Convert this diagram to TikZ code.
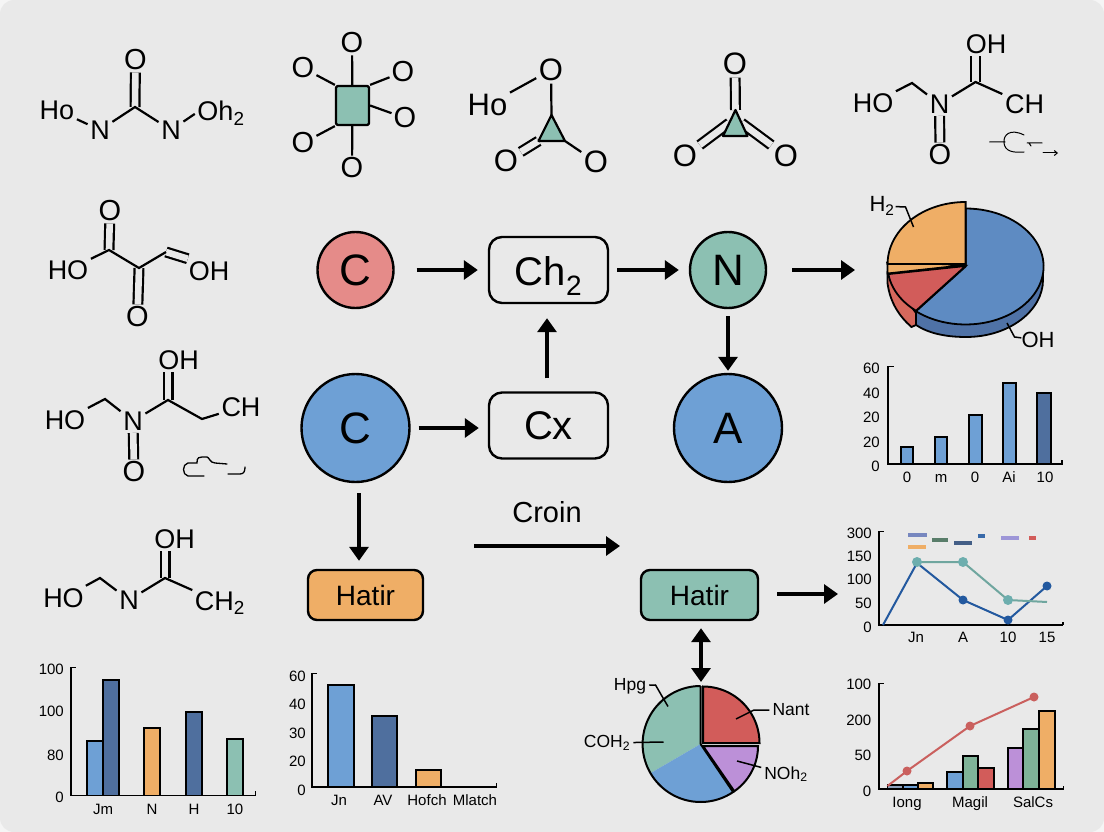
\documentclass[tikz,border=0pt]{standalone}
\usepackage{fontspec}
\setmainfont{Liberation Sans}
\usetikzlibrary{arrows.meta,calc}
\definecolor{paper}{HTML}{E9E9E9}
\definecolor{paperedge}{HTML}{F5F5F5}
\definecolor{tealfill}{HTML}{8CC0B2}
\definecolor{bluefill}{HTML}{6EA0D5}
\definecolor{darkfill}{HTML}{4F6F9E}
\definecolor{orangefill}{HTML}{EFAE66}
\definecolor{redfill}{HTML}{E58B89}
\definecolor{redbar}{HTML}{D25C5A}
\definecolor{purplefill}{HTML}{BC90D8}
\definecolor{greenbar}{HTML}{7FB398}
\definecolor{pietop}{HTML}{5E8BC2}
\definecolor{pieside}{HTML}{4F72A6}
\definecolor{lineblue}{HTML}{23599F}
\definecolor{lineteal}{HTML}{6FA69F}
\definecolor{dotteal}{HTML}{6DAEAE}
\def\fs#1{\fontsize{#1}{#1}\selectfont}
\def\pieslice[#1](#2,#3)(#4:#5:#6:#7){\draw[#1] (#2,#3) -- plot[domain=#4:#5,samples=60] ({#2+#6*cos(\x)},{#3+#7*sin(\x)}) -- cycle;}
\tikzset{
	atom/.style={font=\fs{27}, inner sep=2.5pt},
	oxy/.style={font=\fs{29}, inner sep=2pt},
	bigatom/.style={font=\fs{31}, inner sep=2.5pt},
	bond/.style={line width=2.2pt},
	dbond/.style={line width=2.2pt, double=paper, double distance=6.6pt},
	squiggle/.style={line width=1pt, line cap=round},
	shapefill/.style={draw=black, line width=2.2pt, fill=tealfill, line join=round},
	ball/.style={circle, draw=black, line width=2.4pt, font=\fs{44}, inner sep=0pt},
	flowbox/.style={rectangle, rounded corners=13pt, draw=black, line width=2.4pt, font=\fs{40}, minimum width=119pt, minimum height=66pt, inner sep=0pt},
	tagbox/.style={rectangle, rounded corners=9pt, draw=black, line width=2.4pt, font=\fs{28}, minimum height=50pt, inner sep=0pt},
	flow/.style={line width=3.3pt, -{Triangle[length=14pt,width=19pt]}},
	flowboth/.style={line width=3.3pt, {Triangle[length=14pt,width=19pt]}-{Triangle[length=14pt,width=19pt]}},
	axis/.style={line width=1.8pt},
	barbox/.style={draw=black, line width=1.8pt},
	ylab/.style={font=\fs{15}, anchor=east, inner sep=0pt},
	xlab/.style={font=\fs{15}, inner sep=0pt, text height=11pt, text depth=0pt},
	pielab/.style={font=\fs{17.5}, inner sep=0pt},
	leader/.style={line width=1.5pt},
}
\begin{document}
\begin{tikzpicture}[x=1pt,y=-1pt]
			%%%%% START %%%%%
			
			\fill[paperedge] (0, 0) rectangle (1104, 832);
			\useasboundingbox (0, 0) rectangle (1104, 832);
			\fill[paper, rounded corners=14pt] (0, 0) rectangle (1104, 832);
			
			%%%%% row one
			\node[atom] (aho) at (57, 110) {Ho};
			\node[atom] (ana) at (100, 130) {N};
			\coordinate (ac) at (135, 107);
			\node[oxy] (ao) at (135.5, 60) {O};
			\node[atom] (anb) at (171, 130) {N};
			\node[atom] (aoh) at (221, 113) {Oh\textsubscript{2}};
			\draw[dbond] (ac) -- (ao);
			\draw[bond] (aho) -- (ana);
			\draw[bond] (ana) -- (ac) -- (anb);
			\draw[bond] (anb) -- (aoh.182);
			
			\node[rectangle, rounded corners=1.5pt, shapefill, minimum width=33pt, minimum height=39pt, inner sep=0pt] (bsq) at (352.5, 105.5) {};
			\node[oxy] (bot) at (352, 43) {O};
			\node[oxy] (bolt) at (303, 68) {O};
			\node[oxy] (bort) at (403, 72) {O};
			\node[oxy] (borr) at (405, 118) {O};
			\node[oxy] (bolb) at (303, 143) {O};
			\node[oxy] (bob) at (352, 168) {O};
			\draw[bond] (bsq) -- (bot);
			\draw[bond] (bsq.north west) -- (bolt);
			\draw[bond] (bsq.north east) -- (bort);
			\draw[bond] (bsq.east) -- (borr);
			\draw[bond] (bsq.south west) -- (bolb);
			\draw[bond] (bsq) -- (bob);
			
			\node[bigatom] (cho) at (487.5, 105) {Ho};
			\node[bigatom] (cot) at (551, 70) {O};
			\node[bigatom] (col) at (506, 161) {O};
			\node[bigatom] (cor) at (596, 162) {O};
			\coordinate (capex) at (551.5, 115);
			\coordinate (cleft) at (538.5, 141);
			\coordinate (cright) at (565, 141);
			\draw[bond] (cho) -- (cot);
			\draw[bond] (cot) -- (capex);
			\draw[dbond] (cleft) -- (col);
			\draw[bond] (cright) -- (cor);
			\draw[shapefill] (capex) -- (cleft) -- (cright) -- cycle;
			
			\node[bigatom] (dot) at (735, 64) {O};
			\node[bigatom] (dol) at (685, 156) {O};
			\node[bigatom] (dor) at (786, 156) {O};
			\coordinate (dapex) at (735.5, 110);
			\coordinate (dleft) at (723, 136);
			\coordinate (dright) at (747.5, 136);
			\draw[dbond] (dapex) -- (dot);
			\draw[dbond] ($(dleft)!0.5!(dapex)$) -- (dol);
			\draw[dbond] ($(dright)!0.5!(dapex)$) -- (dor);
			\draw[shapefill] (dapex) -- (dleft) -- (dright) -- cycle;
			
			\node[atom] (eho) at (873, 103) {HO};
			\coordinate (ea) at (912, 83);
			\node[atom] (en) at (939.5, 104) {N};
			\coordinate (eb) at (975.5, 82);
			\node[atom] (eoh) at (986, 44) {OH};
			\node[atom] (ech) at (1024.5, 104) {CH};
			\node[oxy] (eo) at (940, 155) {O};
			\draw[dbond] (eb) -- (eb |- eoh.south);
			\draw[dbond] (en) -- (eo);
			\draw[bond] (eho) -- (ea) -- (en);
			\draw[bond] (en) -- (eb) -- (ech);
			\draw[squiggle] (989.5, 142) -- (1005, 142) (1024, 135) .. controls (1010, 128) and (1003, 135) .. (1004, 143) .. controls (1005, 151) and (1012, 153) .. (1024, 152);
			\draw[squiggle] (1027, 143) -- (1042, 143) (1031, 146) -- (1029, 143);
			\draw[squiggle, -{Straight Barb[length=3pt,width=5pt]}] (1043, 153) -- (1058, 153);
			
			%%%%% row two
			\node[atom] (fho) at (68, 270) {HO};
			\coordinate (fa) at (109, 250);
			\coordinate (fb) at (139, 268);
			\coordinate (fc) at (166, 252);
			\node[oxy] (fot) at (110, 211) {O};
			\node[oxy] (fob) at (137.5, 317) {O};
			\node[atom] (foh) at (209, 271) {OH};
			\draw[dbond] (fa) -- (fot);
			\draw[dbond] (fb) -- (fob);
			\draw[dbond] (fc) -- (foh.150);
			\draw[bond] (fho) -- (fa) -- (fb) -- (fc);
			
			\node[ball, fill=redfill, minimum size=76pt] (cred) at (355.5, 270) {C};
			\node[flowbox, fill=paper, text height=30pt, text depth=0pt] (chtwo) at (548.5, 270) {Ch\textsubscript{2}};
			\node[ball, fill=tealfill, minimum size=76pt] (nteal) at (728, 270) {N};
			\coordinate (pieone) at (855, 270);
			\draw[flow, shorten <=22pt, shorten >=10pt] (cred) -- (chtwo);
			\draw[flow, shorten <=8pt, shorten >=10pt] (chtwo) -- (nteal);
			\draw[flow, shorten <=25pt] (nteal) -- (pieone);
			
			\draw[barbox, fill=pieside] (887.5, 263) -- (1043, 263) -- (1043, 280) .. controls (1043, 310) and (1010, 337) .. (966, 337) .. controls (945, 337) and (928, 333) .. (916, 325) -- cycle;
			\draw[barbox, fill=redbar!85!orangefill] (887.5, 274) -- (887.5, 283) .. controls (890, 303) and (900, 317) .. (911.5, 327) -- (916, 325) -- (916, 313) -- cycle;
			\pieslice[barbox, fill=pietop](965.6,266.5)(-90:129.5:78:58)
			\pieslice[barbox, fill=redbar](965.6,266)(172:129.5:78:58)
			\draw[barbox, fill=orangefill] (887.5, 262) -- (887.5, 273.5) -- (965.6, 265) -- cycle;
			\pieslice[barbox, fill=orangefill](965.6,264)(-90:-180:78:62)
			\node[font=\fs{22}, inner sep=0pt] (ptwo) at (882, 206) {H\textsubscript{2}};
			\coordinate (pa) at (905.5, 207);
			\coordinate (pb) at (913.5, 227);
			\draw[leader, shorten <=1pt] (ptwo) -- (pa) -- (pb);
			\node[font=\fs{22}, inner sep=0pt] (poh) at (1038, 340) {OH};
			\coordinate (pc) at (1007, 323);
			\coordinate (pd) at (1014.5, 337);
			\draw[leader] (pc) -- (pd) -- (poh);
			
			%%%%% row three
			\node[atom] (gho) at (65, 420) {HO};
			\coordinate (ga) at (105, 399);
			\node[atom] (gn) at (133, 421) {N};
			\coordinate (gb) at (168, 400);
			\coordinate (gc) at (202, 419);
			\node[atom] (goh) at (178.5, 360) {OH};
			\node[atom] (gch) at (241, 407) {CH};
			\node[oxy] (go) at (134, 472) {O};
			\draw[dbond] (gb) -- (gb |- goh.south);
			\draw[dbond] (gn) -- (go);
			\draw[bond] (gho) -- (ga) -- (gn);
			\draw[bond] (gn) -- (gb) -- (gc) -- (gch);
			\draw[squiggle, line width=1.3pt] (204, 476) -- (188, 476) .. controls (182, 475) and (182, 464) .. (188, 463) -- (197, 463) .. controls (197, 457) and (198, 457) .. (207, 457) .. controls (209, 457) and (210, 463) .. (215, 463) -- (227, 464);
			\draw[squiggle, line width=1.3pt] (228, 474) -- (240, 474) .. controls (244, 474) and (245, 471) .. (245, 467);
			
			\node[ball, fill=bluefill, minimum size=108pt] (cblue) at (355.5, 428) {C};
			\node[flowbox, fill=paper] (cx) at (548.5, 425.5) {Cx};
			\node[ball, fill=bluefill, minimum size=108pt] (ablue) at (728, 428) {A};
			\draw[flow, shorten <=8pt, shorten >=9pt] (cblue) -- (cx.west |- cblue);
			\draw[flow, shorten <=13pt, shorten >=14pt] ([xshift=-1.5pt]cx.north) -- ([xshift=-1.5pt]chtwo.south);
			\draw[flow, shorten <=7pt, shorten >=2pt] (nteal) -- (ablue);
			
			\draw[barbox] (888, 366) -- (888, 464) -- (1062, 464) -- (1062, 460);
			\draw[axis] (888, 366.5) -- (894, 366.5);
			\draw[barbox, fill=bluefill] (901, 447) rectangle (913, 464);
			\draw[barbox, fill=bluefill] (935, 437) rectangle (947, 464);
			\draw[barbox, fill=bluefill] (969, 415) rectangle (982, 464);
			\draw[barbox, fill=bluefill] (1003, 383) rectangle (1016, 464);
			\draw[barbox, fill=darkfill] (1037, 393) rectangle (1051, 464);
			\node[ylab] (hya) at (880, 368) {60};
			\node[ylab] (hyb) at (880, 393) {40};
			\node[ylab] (hyc) at (880, 417) {20};
			\node[ylab] (hyd) at (880, 442) {20};
			\node[ylab] (hye) at (880, 466) {0};
			\node[xlab] (hxa) at (907, 477) {0};
			\node[xlab] (hxb) at (941, 477) {m};
			\node[xlab] (hxc) at (975, 477) {0};
			\node[xlab] (hxd) at (1009, 477) {Ai};
			\node[xlab] (hxe) at (1045, 477) {10};
			
			%%%%% row four
			\node[atom] (jho) at (63.5, 598) {HO};
			\coordinate (ja) at (100, 578);
			\node[atom] (jn) at (129, 600) {N};
			\coordinate (jb) at (165, 578);
			\node[atom] (joh) at (174.5, 539) {OH};
			\node[atom] (jch) at (220, 603) {CH\textsubscript{2}};
			\draw[dbond] (jb) -- (jb |- joh.south);
			\draw[bond] (jho) -- (ja) -- (jn);
			\draw[bond] (jn) -- (jb) -- (jch.155);
			
			\node[tagbox, fill=orangefill, minimum width=115pt] (horange) at (365.5, 595) {Hatir};
			\node[tagbox, fill=tealfill, minimum width=117pt] (hteal) at (699.5, 595) {Hatir};
			\node[font=\fs{29}, inner sep=0pt] (croin) at (547, 512) {Croin};
			\coordinate (croina) at (474, 546);
			\coordinate (croinb) at (620, 546);
			\coordinate (linein) at (838, 594);
			\coordinate (pietip) at (701, 686);
			\draw[flow] ([xshift=3.5pt,yshift=-10pt]cblue.south) -- ([xshift=-6.5pt,yshift=8pt]horange.north);
			\draw[flow] (croina) -- (croinb);
			\draw[flow, shorten <=18pt] (hteal.east |- linein) -- (linein);
			\draw[flowboth, shorten <=7pt, shorten >=4pt] ([xshift=1.5pt]hteal.south) -- (pietip);
			
			\draw[barbox] (879, 531) -- (879, 625) -- (1063, 625);
			\draw[axis] (879, 531.5) -- (884, 531.5) (1063, 625) -- (1063, 622);
			\draw[line width=4.5pt, color=purplefill!40!darkfill!70!bluefill] (908, 535) -- (927, 535);
			\draw[line width=4.5pt, color=orangefill] (908, 547) -- (926, 547);
			\draw[line width=4pt, color=greenbar!70!black] (932, 540) -- (948, 540);
			\draw[line width=4pt, color=darkfill!85!black] (954, 543) -- (972, 543);
			\draw[line width=4.5pt, color=lineblue!90!white] (978, 536) -- (985, 536);
			\draw[line width=4.5pt, color=purplefill!60!bluefill] (1001, 538) -- (1019, 538);
			\draw[line width=4.5pt, color=redbar] (1029, 538) -- (1036, 538);
			\draw[line width=2pt, color=lineblue] (883, 625) -- (917, 563) -- (963, 600) -- (1008, 620) -- (1047, 586);
			\fill[color=lineblue] (963, 600) circle (4.5) (1008, 620) circle (4.5) (1047, 586) circle (4.5);
			\draw[line width=2pt, color=lineteal] (917, 562) -- (963, 562) -- (1008, 600) -- (1047, 602);
			\fill[color=dotteal] (917, 562) circle (5) (963, 562) circle (5) (1008, 600) circle (5);
			\node[ylab] (kya) at (872, 533) {300};
			\node[ylab] (kyb) at (872, 556) {150};
			\node[ylab] (kyc) at (872, 579) {100};
			\node[ylab] (kyd) at (872, 603) {50};
			\node[ylab] (kye) at (872, 627) {0};
			\node[xlab] (kxa) at (916, 637) {Jn};
			\node[xlab] (kxb) at (963, 637) {A};
			\node[xlab] (kxc) at (1008, 637) {10};
			\node[xlab] (kxd) at (1047, 637) {15};
			
			%%%%% row five
			\draw[barbox] (71, 667) -- (71, 795.5) -- (255.5, 795.5) -- (255.5, 791);
			\draw[axis] (71, 667.5) -- (76, 667.5);
			\draw[barbox, fill=bluefill] (87, 741) rectangle (103, 795.5);
			\draw[barbox, fill=darkfill] (103, 680) rectangle (119, 795.5);
			\draw[barbox, fill=orangefill] (144, 728) rectangle (160, 795.5);
			\draw[barbox, fill=darkfill] (186, 712) rectangle (202, 795.5);
			\draw[barbox, fill=tealfill] (227, 739) rectangle (243, 795.5);
			\node[ylab] (lya) at (64, 669) {100};
			\node[ylab] (lyb) at (64, 711) {100};
			\node[ylab] (lyc) at (64, 755) {80};
			\node[ylab] (lyd) at (64, 797) {0};
			\node[xlab] (lxa) at (103, 809) {Jm};
			\node[xlab] (lxb) at (152, 809) {N};
			\node[xlab] (lxc) at (194, 809) {H};
			\node[xlab] (lxd) at (235, 809) {10};
			
			\draw[barbox] (312, 673) -- (312, 787) -- (496.5, 787) -- (496.5, 783);
			\draw[axis] (312, 673.5) -- (317, 673.5);
			\draw[barbox, fill=bluefill] (328, 685) rectangle (354, 787);
			\draw[barbox, fill=darkfill] (372, 716) rectangle (397, 787);
			\draw[barbox, fill=orangefill] (416, 770) rectangle (441, 787);
			\node[ylab] (mya) at (306, 676) {60};
			\node[ylab] (myb) at (306, 704) {40};
			\node[ylab] (myc) at (306, 733) {30};
			\node[ylab] (myd) at (306, 761) {20};
			\node[ylab] (mye) at (306, 790) {0};
			\node[xlab] (mxa) at (339, 800) {Jn};
			\node[xlab] (mxb) at (383, 800) {AV};
			\node[xlab] (mxc) at (427, 800) {Hofch};
			\node[xlab] (mxd) at (475, 800) {Mlatch};
			
			\fill[tealfill] (700.6, 744) -- plot[domain=-90:-210.2,samples=40] ({700.6+58*cos(\x)},{744+58*sin(\x)}) -- cycle;
			\fill[bluefill] (700.6, 744) -- plot[domain=149.8:55.9,samples=40] ({700.6+58*cos(\x)},{744+58*sin(\x)}) -- cycle;
			\draw[line width=2pt] (700.6, 744) -- (700.6, 686) plot[domain=-90:-304.1,samples=90] ({700.6+58*cos(\x)},{744+58*sin(\x)}) -- (700.6, 744);
			\pieslice[barbox, line width=2pt, fill=purplefill](703,746)(0:55.3:55:55)
			\pieslice[barbox, line width=2pt, fill=redbar](703,743)(-90:0:56.5:56.5)
			\node[pielab] (qa) at (630, 686) {Hpg};
			\node[pielab] (qb) at (791, 710) {Nant};
			\node[pielab] (qc) at (607, 743) {COH\textsubscript{2}};
			\node[pielab] (qd) at (786, 774) {NOh\textsubscript{2}};
			\coordinate (qaa) at (655.5, 685);
			\coordinate (qab) at (668, 706.5);
			\coordinate (qba) at (754, 710);
			\coordinate (qbb) at (736, 719);
			\coordinate (qcb) at (663.5, 742);
			\coordinate (qdb) at (737, 761);
			\draw[leader, shorten <=3pt] (qa) -- (qaa) -- (qab);
			\draw[leader, shorten <=3pt] (qb) -- (qba) -- (qbb);
			\draw[leader, shorten <=3pt] (qc) -- (qcb);
			\draw[leader, shorten <=3pt] (qd) -- (qdb);
			
			\draw[barbox] (879, 683) -- (879, 789) -- (1063.5, 789) -- (1063.5, 786);
			\draw[axis] (879, 683.5) -- (884, 683.5);
			\draw[barbox, fill=darkfill!60!paper] (887.5, 785) rectangle (903, 789);
			\draw[barbox, fill=bluefill] (903, 785) rectangle (918, 789);
			\draw[barbox, fill=orangefill] (918, 783) rectangle (933, 789);
			\draw[barbox, fill=bluefill] (947, 772) rectangle (963, 789);
			\draw[barbox, fill=greenbar] (963, 756) rectangle (978, 789);
			\draw[barbox, fill=redbar] (978, 768) rectangle (994, 789);
			\draw[barbox, fill=purplefill] (1008, 748) rectangle (1023, 789);
			\draw[barbox, fill=greenbar] (1023, 729) rectangle (1039, 789);
			\draw[barbox, fill=orangefill] (1039, 711) rectangle (1055, 789);
			\draw[line width=2pt, color=redbar!90!gray] (887.5, 786) -- (907, 771) -- (970, 726) -- (1034, 697);
			\fill[color=redbar!90!gray] (907, 771) circle (4.5) (970, 726) circle (4.5) (1034, 697) circle (4.5);
			\node[ylab] (nya) at (871.5, 684) {100};
			\node[ylab] (nyb) at (871.5, 720) {200};
			\node[ylab] (nyc) at (871.5, 755) {50};
			\node[ylab] (nyd) at (871.5, 791) {0};
			\node[xlab] (nxa) at (907, 802) {Iong};
			\node[xlab] (nxb) at (970, 802) {Magil};
			\node[xlab] (nxc) at (1033, 802) {SalCs};
			
			%%%%% END %%%%%
\end{tikzpicture}
\end{document}
